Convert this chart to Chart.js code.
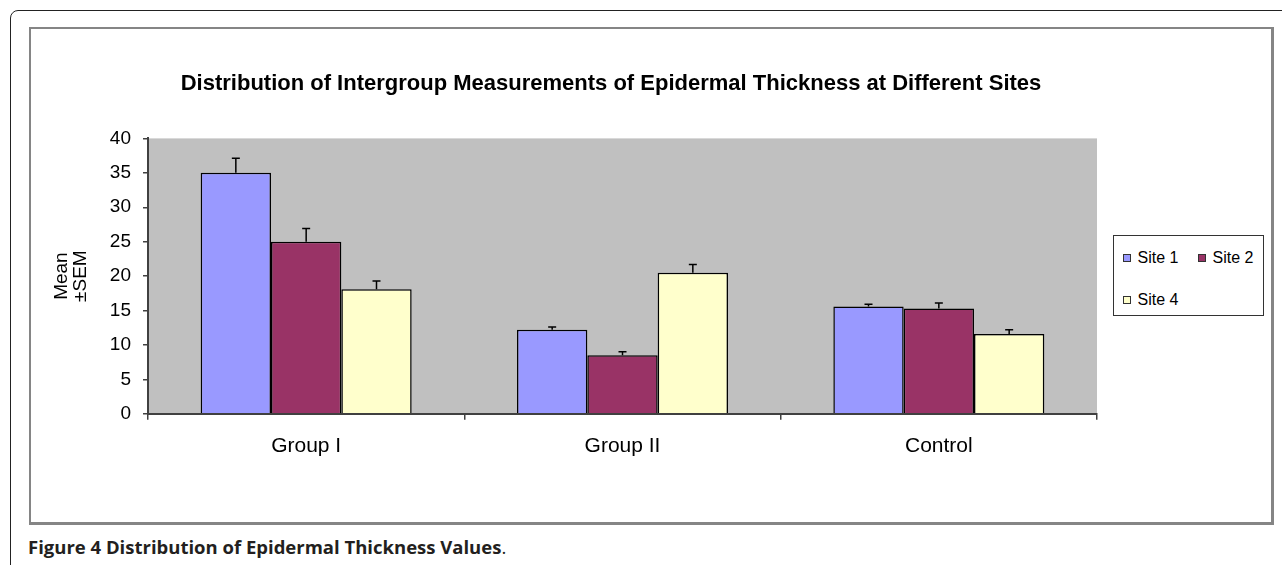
<!DOCTYPE html>
<html>
<head>
<meta charset="utf-8">
<script src="https://cdn.jsdelivr.net/npm/chart.js@4.4.1/dist/chart.umd.min.js"></script>
<style>
  html, body { margin: 0; padding: 0; background: #fff; overflow: hidden; }
  body { width: 1282px; height: 565px; position: relative; }
  .figure-box {
    position: absolute; left: 10px; top: 10px; width: 1300px; height: 600px;
    border: 1.5px solid #222; border-top-left-radius: 8px;
  }
  .chart-frame {
    position: absolute; left: 29px; top: 27px; width: 1240px; height: 493px;
    border: 2px solid #858585; border-right-width: 3px; border-bottom-width: 3px;
    background: #fff;
  }
  .chart-frame canvas { position: absolute; left: 0; top: 0; }
  #legend {
    position: absolute; left: 1082px; top: 206px; width: 151px; height: 81px;
    box-sizing: border-box; border: 1.5px solid #333; background: #fff;
    padding: 1px 0 0 8.5px; display: flex; flex-wrap: wrap; align-content: flex-start;
    font-family: Arial, "Liberation Sans", sans-serif; font-size: 16px; color: #000;
  }
  #legend .item { height: 42px; display: flex; align-items: center; }
  #legend .item:nth-child(odd) { width: 75px; }
  #legend .item:nth-child(even) { width: 60px; }
  #legend .swatch { width: 6px; height: 6px; border: 1px solid #333; margin-right: 7px; }
  .caption {
    position: absolute; left: 28px; top: 536px; line-height: 22px;
    font-family: "Open Sans", sans-serif; font-size: 18.5px; color: #231f20;
  }
  .caption b { font-weight: 700; }
</style>
</head>
<body>
<div class="figure-box"></div>
<div class="chart-frame">
  <canvas id="thickness-chart" width="1240" height="493"></canvas>
  <div id="legend"></div>
</div>
<div class="caption"><b>Figure 4 Distribution of Epidermal Thickness Values</b>.</div>

<script>
// Chart data
const categories = ['Group I', 'Group II', 'Control'];
const seriesNames = ['Site 1', 'Site 2', 'Site 4'];
const site1 = [35.0, 12.2, 15.6];
const site2 = [25.0, 8.5, 15.3];
const site4 = [18.1, 20.5, 11.6];
const site1Sem = [2.1, 0.4, 0.3];
const site2Sem = [1.9, 0.5, 0.8];
const site4Sem = [1.2, 1.2, 0.6];
const yMin = 0;
const yMax = 40;
const yStep = 5;

const seriesColors = ['#9999ff', '#993366', '#ffffcc'];
const fontFamily = 'Arial, "Liberation Sans", sans-serif';

// Gray plot area like the Excel original
const plotBackground = {
    id: 'plotBackground',
    beforeDraw(chart) {
        const { ctx, chartArea } = chart;
        ctx.save();
        ctx.fillStyle = '#c0c0c0';
        ctx.fillRect(chartArea.left, chartArea.top, chartArea.right - chartArea.left, chartArea.bottom - chartArea.top);
        ctx.restore();
    }
};

// Upward-only SEM error bars
const errorBars = {
    id: 'errorBars',
    afterDatasetsDraw(chart) {
        const { ctx } = chart;
        const yScale = chart.scales.y;
        ctx.save();
        ctx.strokeStyle = '#000';
        ctx.lineWidth = 1.5;
        chart.data.datasets.forEach((ds, i) => {
            const meta = chart.getDatasetMeta(i);
            meta.data.forEach((bar, j) => {
                const top = yScale.getPixelForValue(ds.data[j] + ds.sem[j]);
                ctx.beginPath();
                ctx.moveTo(bar.x, bar.y);
                ctx.lineTo(bar.x, top);
                ctx.moveTo(bar.x - 4, top);
                ctx.lineTo(bar.x + 4, top);
                ctx.stroke();
            });
        });
        ctx.restore();
    }
};

// Excel centred the title a bit left of the full frame
const titleShift = {
    id: 'titleShift',
    afterLayout(chart) {
        if (chart.titleBlock) {
            chart.titleBlock.left += 47;
            chart.titleBlock.right += 47;
        }
    }
};

const ctx = document.getElementById('thickness-chart');
const chart = new Chart(ctx, {
    type: 'bar',
    data: {
        labels: categories,
        datasets: [
            { label: seriesNames[0], data: site1, sem: site1Sem, backgroundColor: seriesColors[0] },
            { label: seriesNames[1], data: site2, sem: site2Sem, backgroundColor: seriesColors[1] },
            { label: seriesNames[2], data: site4, sem: site4Sem, backgroundColor: seriesColors[2] }
        ].map(ds => Object.assign(ds, {
            borderColor: '#000',
            borderWidth: 1.5,
            categoryPercentage: 0.667,
            barPercentage: 1.0
        }))
    },
    options: {
        responsive: false,
        animation: false,
        devicePixelRatio: 1,
        layout: { padding: { top: 0, right: 174, bottom: 49, left: 0 } },
        plugins: {
            legend: { display: false },
            tooltip: { enabled: false },
            title: {
                display: true,
                text: 'Distribution of Intergroup Measurements of Epidermal Thickness at Different Sites',
                color: '#000',
                font: { family: fontFamily, size: 22, weight: 'bold' },
                padding: { top: 42, bottom: 41 }
            }
        },
        scales: {
            x: {
                grid: { drawOnChartArea: false, drawTicks: true, tickLength: 6, color: '#404040', lineWidth: 1.5, offset: true },
                border: { color: '#404040', width: 2 },
                ticks: { color: '#000', padding: 14, font: { family: fontFamily, size: 21 } }
            },
            y: {
                min: yMin,
                max: yMax,
                afterFit(scale) { scale.width = 117; },
                grid: { drawOnChartArea: false, drawTicks: true, tickLength: 5, color: '#404040', lineWidth: 1.5 },
                border: { color: '#404040', width: 2 },
                ticks: { stepSize: yStep, color: '#000', padding: 12, font: { family: fontFamily, size: 19 } },
                title: {
                    display: true,
                    text: ['Mean', '±SEM'],
                    color: '#000',
                    font: { family: fontFamily, size: 19, lineHeight: 1.0 },
                    padding: { top: 21, bottom: 0 }
                }
            }
        }
    },
    plugins: [plotBackground, errorBars, titleShift]
});

// HTML legend laid out in rows like the original
const legendEl = document.getElementById('legend');
chart.data.datasets.forEach(ds => {
    const item = document.createElement('div');
    item.className = 'item';
    const sw = document.createElement('span');
    sw.className = 'swatch';
    sw.style.background = ds.backgroundColor;
    const label = document.createElement('span');
    label.textContent = ds.label;
    item.appendChild(sw);
    item.appendChild(label);
    legendEl.appendChild(item);
});
</script>
</body>
</html>
